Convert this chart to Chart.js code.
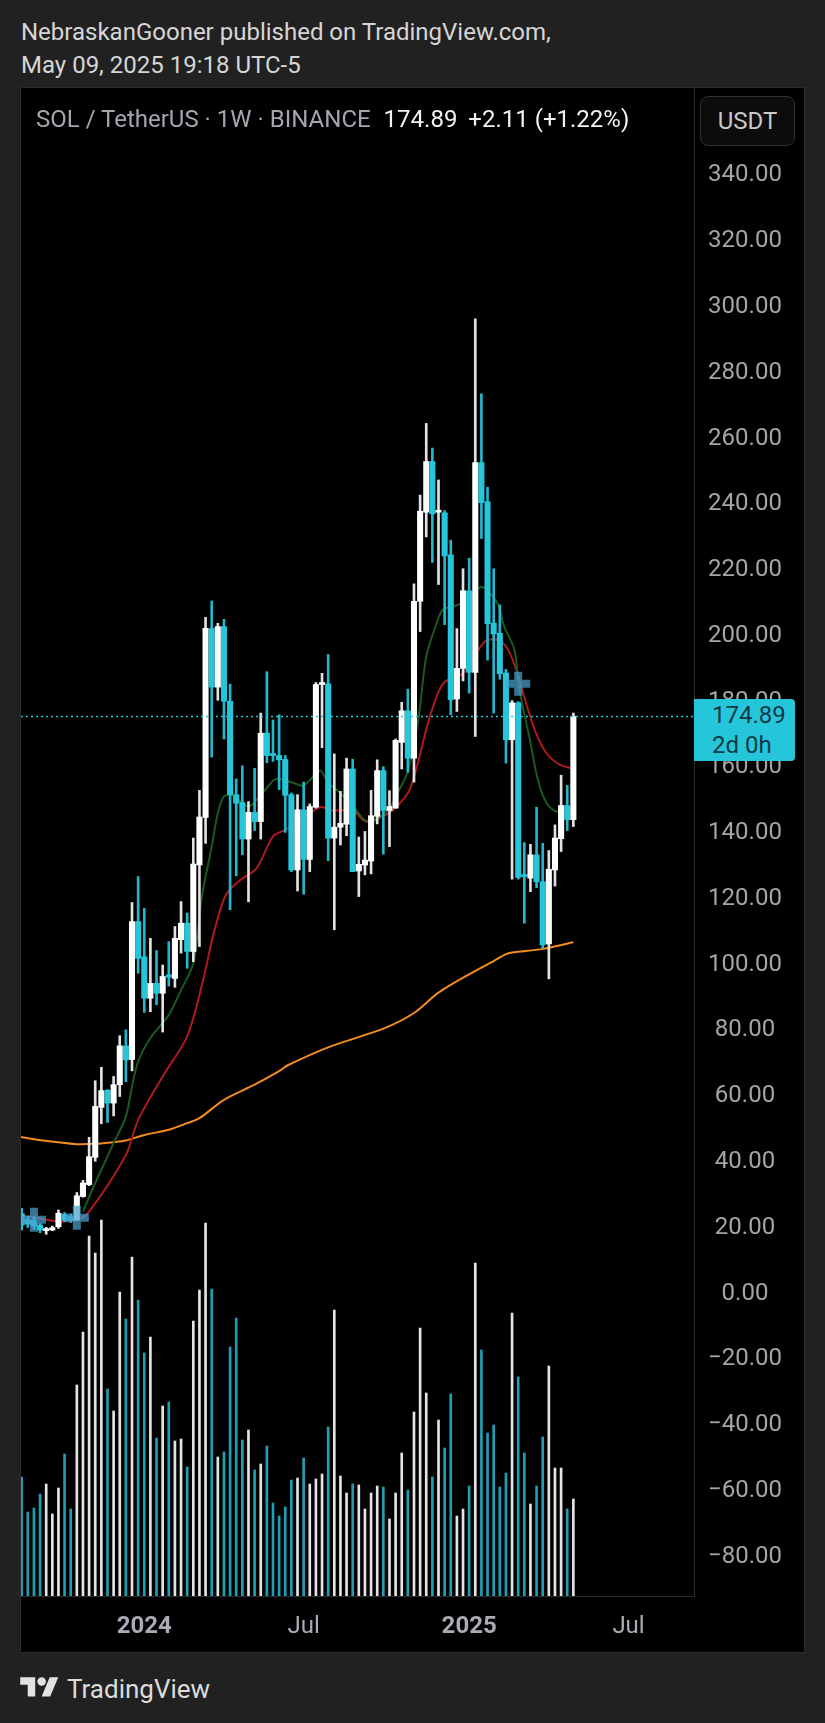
<!DOCTYPE html>
<html>
<head>
<meta charset="utf-8">
<title>SOL / TetherUS</title>
<script src="https://cdn.jsdelivr.net/npm/chart.js@4"></script>
<style>
    html, body { margin: 0; padding: 0; background: #212121; }
    body { width: 825px; height: 1723px; position: relative; overflow: hidden; font-family: Roboto, sans-serif; }
    .abs { position: absolute; white-space: nowrap; }
    #published { left: 21px; top: 16px; color: #d6d6d6; font-size: 24px; line-height: 33px; }
    #panel { left: 20px; top: 87px; width: 783px; height: 1564px; border: 1px solid #2c2c2c; background: #000; }
    #chart { position: absolute; left: 0; top: 0; display: block; }
    #title { left: 36px; top: 105px; color: #a3a6ae; font-size: 24px; line-height: 28px; }
    #title b { font-weight: 400; color: #f2f2f2; margin-left: 7px; }
    #title b + b { margin-left: 5px; }
    #unit { left: 700px; top: 96px; width: 95px; height: 50px; box-sizing: border-box; border: 1px solid #2e2e2e; border-radius: 8px; background: #0c0c0c; color: #c9c9c9; font-size: 24px; line-height: 48px; text-align: center; }
    #tag { left: 694px; top: 699px; width: 101px; height: 62px; background: #26c6da; border-radius: 0 4px 4px 0; color: #0b3a47; font-size: 24px; line-height: 30px; padding-left: 18px; box-sizing: border-box; padding-top: 1px; }
    #logo { left: 20px; top: 1673px; }
    #brand { left: 67px; top: 1674px; color: #dcdcdc; font-size: 26px; line-height: 30px; }
</style>
</head>
<body>
<div class="abs" id="published">NebraskanGooner published on TradingView.com,<br>May 09, 2025 19:18 UTC-5</div>
<div class="abs" id="panel"><canvas id="chart" width="783" height="1564"></canvas></div>
<div class="abs" id="title">SOL / TetherUS · 1W · BINANCE <b>174.89</b> <b>+2.11 (+1.22%)</b></div>
<div class="abs" id="unit">USDT</div>
<div class="abs" id="tag">174.89<br>2d 0h</div>
<svg class="abs" id="logo" width="39" height="30" viewBox="0 0 36 28"><path fill="#e2e2e2" d="M14 22H7V11H0V4h14v18zM28 22h-8l7.5-18h8L28 22z"/><circle fill="#e2e2e2" cx="20" cy="8" r="4"/></svg>
<div class="abs" id="brand">TradingView</div>

<script>
// velas semanales
const opens = [
    23.7, 21.9, 21.7, 20.2, 18.5, 18.7, 19.7, 23.5, 22.8, 21.7,
    28.9, 32.5, 40.8, 56, 61.2, 57.3, 62.9, 74.7, 70.6, 112.5,
    101.8, 89.2, 93.7, 90.7, 96.3, 95.2, 107, 112, 103.4, 129.7,
    144.2, 201.6, 183.8, 202.2, 179.5, 151.1, 148.7, 137.6, 145.7, 142.9,
    169.8, 163.5, 163, 161.8, 151.1, 128.2, 146.5, 131.4, 147.3, 184.6,
    184.8, 137.9, 141.2, 142.1, 158.9, 127.9, 129.7, 130.9, 144.5, 158.4,
    146.3, 147, 167, 176.6, 162.2, 209.9, 237, 252.4, 237, 236.8,
    224, 180.2, 189.5, 213.1, 188.3, 252.1, 240.2, 203.3, 200.2, 188.1,
    167.8, 179, 126.7, 125.7, 132.8, 124.6, 105.7, 128.2, 137.7, 147.8, 143.5
];
const closes = [
    20.2, 20.5, 19.9, 18.7, 19.1, 19.4, 23.8, 21.7, 21.7, 29.1,
    33, 41, 56.3, 61.1, 57.3, 62.9, 74.7, 70.4, 112.5, 101.3,
    89.2, 93.7, 90.7, 95.8, 95.6, 107.4, 112, 103.4, 130, 144.3,
    201.7, 183.8, 202.2, 179.5, 151.1, 148.5, 137.6, 145.7, 142.9, 169.8,
    163, 163, 161.7, 150.9, 128.2, 146.5, 131.4, 147.5, 184.6, 185.1,
    137.9, 141.2, 142.4, 158.9, 127.7, 129.9, 131.2, 144.7, 158.4, 146.3,
    147.5, 167.6, 176.6, 162.2, 209.9, 237.3, 252.4, 236.5, 237.3, 223.7,
    180, 189.5, 213.1, 188.3, 252.1, 239.9, 203.1, 200, 187.9, 167.8,
    179, 125.9, 126.2, 132.8, 124.6, 105.4, 128.4, 137.9, 147.8, 143.5, 174.89
];
const highs = [
    25.3, 22.8, 22.8, 20.7, 19.5, 19.9, 24.8, 24, 23.6, 30.1,
    33.8, 46.9, 64.1, 68.2, 61.4, 65.4, 77.8, 79.6, 118.3, 126.2,
    116.5, 107.4, 103.7, 99.3, 106.4, 111, 118.6, 115.1, 137.9, 152.4,
    205, 210, 203.2, 204.4, 184.7, 155.9, 159.9, 149, 159.1, 175.9,
    188.5, 173.8, 175.4, 163, 151.6, 151.1, 154.9, 148.3, 185.2, 188,
    193.7, 163.5, 152.1, 162.2, 161.9, 138.2, 139.9, 152.4, 161.7, 159.6,
    152.3, 168, 179.2, 183.2, 215.2, 242.2, 264, 256.5, 246.8, 237.5,
    228.5, 201.6, 219.8, 223, 295.8, 273, 244.6, 219.8, 208.8, 189.2,
    179.7, 179.4, 136.5, 136, 147.3, 136.3, 134.1, 141.9, 157, 153.9, 175.9
];
const lows = [
    18.7, 19.5, 18.9, 17.9, 17.4, 18.5, 19.2, 21.2, 21, 21.6,
    28.7, 32.2, 39.6, 51, 51.4, 53.4, 59.3, 63.8, 67.1, 96.8,
    84.9, 85.1, 87.2, 78.9, 92.9, 92.5, 102.9, 98.3, 100.3, 104.9,
    136.3, 162.5, 179.8, 168, 116.1, 126.4, 132.8, 118.5, 140.2, 137.6,
    160.8, 161.2, 152.6, 139.6, 127.7, 121.8, 120.8, 127.7, 147, 165.4,
    131, 110, 135.8, 138.6, 127.7, 120.1, 126.7, 127, 142.2, 133,
    135.3, 147, 158.9, 157.9, 154.9, 200.7, 229.5, 221.7, 215, 202.8,
    175.4, 176.4, 185.7, 182, 168.8, 229, 192, 175.9, 186.2, 160.7,
    125.4, 125.4, 112, 121.6, 122.8, 104.4, 95.1, 123.3, 133.8, 140.2, 141.4
];
const volumes = [
    11.9, 8.4, 8.8, 10.2, 11.2, 8.2, 10.8, 14.2, 8.7, 21.1,
    26.4, 36, 34.3, 37.6, 20.7, 18.5, 30.4, 27.7, 33.9, 29.6,
    24.3, 25.9, 15.8, 19, 19.4, 15.5, 15.7, 12.9, 27.5, 30.6,
    37.3, 30.7, 13.9, 14.4, 24.9, 27.8, 15.6, 16.6, 12.6, 13.2,
    15, 9.3, 8, 8.9, 11.6, 11.8, 13.8, 11.2, 11.7, 12.2,
    16.9, 28.6, 12, 10.3, 11.2, 11.1, 8.7, 10.3, 11, 10.9,
    7.7, 10.3, 14.3, 10.6, 18.4, 26.8, 20.3, 11.9, 17.6, 14.8,
    20.2, 8, 8.7, 11, 33.3, 24.6, 16.3, 17.1, 10.9, 12.3,
    28.3, 21.9, 14.3, 9.2, 11, 15.9, 23, 12.8, 12.8, 8.7, 9.7
];

// medias moviles, solo los puntos visibles
const greenWeeks = [10, 12, 15, 17, 18, 19, 21, 24, 26, 28, 29.4, 31, 32, 33, 34.5, 37, 39.5, 41.5, 44, 46, 48.7, 50, 51.7, 54.5, 56, 58, 60, 61.6, 63, 64.7, 66, 67.7, 68.7, 71, 73, 75, 77.6, 78.7, 80.4, 81.2, 82.9, 84.2, 85.6, 87.2, 90];
const greenValues = [24.3, 33, 45.1, 53.2, 62.4, 70, 77.1, 84.1, 91.7, 99.8, 120, 135.3, 145.5, 150.6, 150.8, 147.5, 152.1, 155.9, 154.9, 153.9, 158.4, 154.6, 152.1, 146.5, 143.3, 143.9, 146.9, 152.6, 158.2, 173.8, 193.1, 203.3, 207.3, 208.7, 210.7, 214.3, 209.4, 202.3, 195.1, 183, 167.8, 155.7, 148.6, 146, 146.9];
const redWeeks = [0, 4, 6, 9, 11, 17, 19, 23, 27, 29.6, 31.2, 33.2, 35.3, 38.3, 41, 43, 46, 48.7, 50.8, 54, 56.2, 59.5, 61.7, 63.3, 64.7, 66.6, 68.8, 72, 74.5, 75.8, 77.6, 79.2, 80.8, 81.8, 83.7, 85.6, 87.8, 89.4, 90];
const redValues = [23.3, 21.8, 21.3, 21.8, 24.3, 41.5, 52.2, 65.4, 77.6, 94.7, 108, 120.2, 124.6, 128.7, 138.4, 140.4, 143.9, 147.3, 146.2, 146.3, 142.9, 145, 148.5, 152.6, 161.2, 174.9, 185, 188, 195.1, 198, 198.2, 195.7, 188.5, 182, 170.8, 163.7, 160.2, 159.3, 159.2];
const orangeWeeks = [-0.1, 3.5, 9, 12, 15, 17, 20, 24, 27, 29, 33, 38, 42, 43.4, 50.2, 59.2, 64, 68, 73.5, 77, 79, 80, 85, 90];
const orangeValues = [47, 45.9, 44.8, 44.9, 45.4, 45.9, 47.6, 49.2, 51.2, 52.7, 58.3, 62.9, 67, 68.8, 74.4, 80.1, 84.7, 90.9, 97, 100.5, 102.6, 103.1, 104.2, 106.2];

// marcas + del indicador
const crossWeeks = [2, 9, 81];
const crossValues = [21.8, 22.4, 184.8];

const lastPrice = 174.89;
const priceTicks = [340, 320, 300, 280, 260, 240, 220, 200, 180, 160, 140, 120, 100, 80, 60, 40, 20, 0, -20, -40, -60, -80];
const timeTicks = [20, 46, 73, 99];
const timeLabels = ['2024', 'Jul', '2025', 'Jul'];

const CYAN = '#26c6da';
const WHITE = '#ffffff';

const weeks = opens.map((o, i) => i);
const isUp = i => closes[i] >= opens[i];
const points = (xs, ys) => xs.map((x, i) => ({ x: x, y: ys[i] }));

const xMin = -0.11;
const xMax = 109.68;

function lineDataset(xs, ys, color) {
    return {
        type: 'line',
        data: points(xs, ys),
        borderColor: color,
        borderWidth: 2,
        pointRadius: 0,
        tension: 0.3,
        yAxisID: 'y',
        order: 3
    };
}

const datasets = [
    {
        type: 'line',
        data: points([xMin, xMax], [lastPrice, lastPrice]),
        borderColor: CYAN,
        borderWidth: 1.5,
        borderDash: [2, 3],
        pointRadius: 0,
        yAxisID: 'y',
        order: 0
    },
    {
        type: 'line',
        data: points(crossWeeks, crossValues),
        showLine: false,
        pointStyle: 'cross',
        pointRadius: 12,
        pointBorderWidth: 8,
        pointBorderColor: 'rgba(72, 160, 205, 0.72)',
        yAxisID: 'y',
        order: 0
    },
    {
        // cuerpos
        type: 'bar',
        data: weeks.map(i => ({ x: i, y: [opens[i], closes[i]] })),
        backgroundColor: weeks.map(i => isUp(i) ? WHITE : CYAN),
        barThickness: 5.4,
        minBarLength: 2,
        grouped: false,
        yAxisID: 'y',
        order: 1
    },
    {
        // mechas
        type: 'bar',
        data: weeks.map(i => ({ x: i, y: [lows[i], highs[i]] })),
        backgroundColor: weeks.map(i => isUp(i) ? '#e2e2e2' : '#22b7cd'),
        barThickness: 2,
        grouped: false,
        yAxisID: 'y',
        order: 2
    },
    lineDataset(greenWeeks, greenValues, '#1a5a1f'),
    lineDataset(redWeeks, redValues, '#ad1a1c'),
    lineDataset(orangeWeeks, orangeValues, '#f28c20'),
    {
        type: 'bar',
        data: weeks.map(i => ({ x: i, y: volumes[i] })),
        backgroundColor: weeks.map(i => isUp(i) ? '#e4e4e4' : '#1f9fb4'),
        barThickness: 2,
        grouped: false,
        yAxisID: 'vol',
        order: 4
    }
];

new Chart(document.getElementById('chart'), {
    data: { datasets: datasets },
    options: {
        responsive: false,
        animation: false,
        devicePixelRatio: 1,
        layout: { padding: 0, autoPadding: false },
        plugins: { legend: { display: false }, tooltip: { enabled: false } },
        scales: {
            x: {
                type: 'linear',
                offset: false,
                min: xMin,
                max: xMax,
                grid: { display: false, drawTicks: false, offset: false },
                border: { display: true, color: '#2c2c2c' },
                afterBuildTicks: scale => {
                    scale.ticks = timeTicks.map(v => ({ value: v }));
                },
                afterFit: scale => {
                    scale.height = 56;
                    scale.paddingLeft = 0;
                    scale.paddingRight = 0;
                },
                ticks: {
                    autoSkip: false,
                    maxRotation: 0,
                    padding: 17,
                    color: '#a9abb5',
                    font: ctx => ({
                        family: 'Roboto',
                        size: 24,
                        weight: timeLabels[ctx.index] === 'Jul' ? 'normal' : 'bold'
                    }),
                    callback: (value, index) => timeLabels[index]
                }
            },
            y: {
                position: 'right',
                min: -92.6,
                max: 366,
                grid: { display: false, drawTicks: false },
                border: { display: true, color: '#2c2c2c' },
                afterBuildTicks: scale => {
                    scale.ticks = priceTicks.map(v => ({ value: v }));
                },
                afterFit: scale => {
                    scale.width = 110;
                    scale.paddingTop = 0;
                    scale.paddingBottom = 0;
                },
                ticks: {
                    autoSkip: false,
                    crossAlign: 'center',
                    padding: 14,
                    labelOffset: 2,
                    color: '#a3a5a8',
                    font: { family: 'Roboto', size: 24 },
                    callback: value => value.toFixed(2).replace('-', '\u2212')
                }
            },
            vol: {
                display: false,
                min: 0,
                max: 150.8
            }
        }
    }
});
</script>
</body>
</html>
